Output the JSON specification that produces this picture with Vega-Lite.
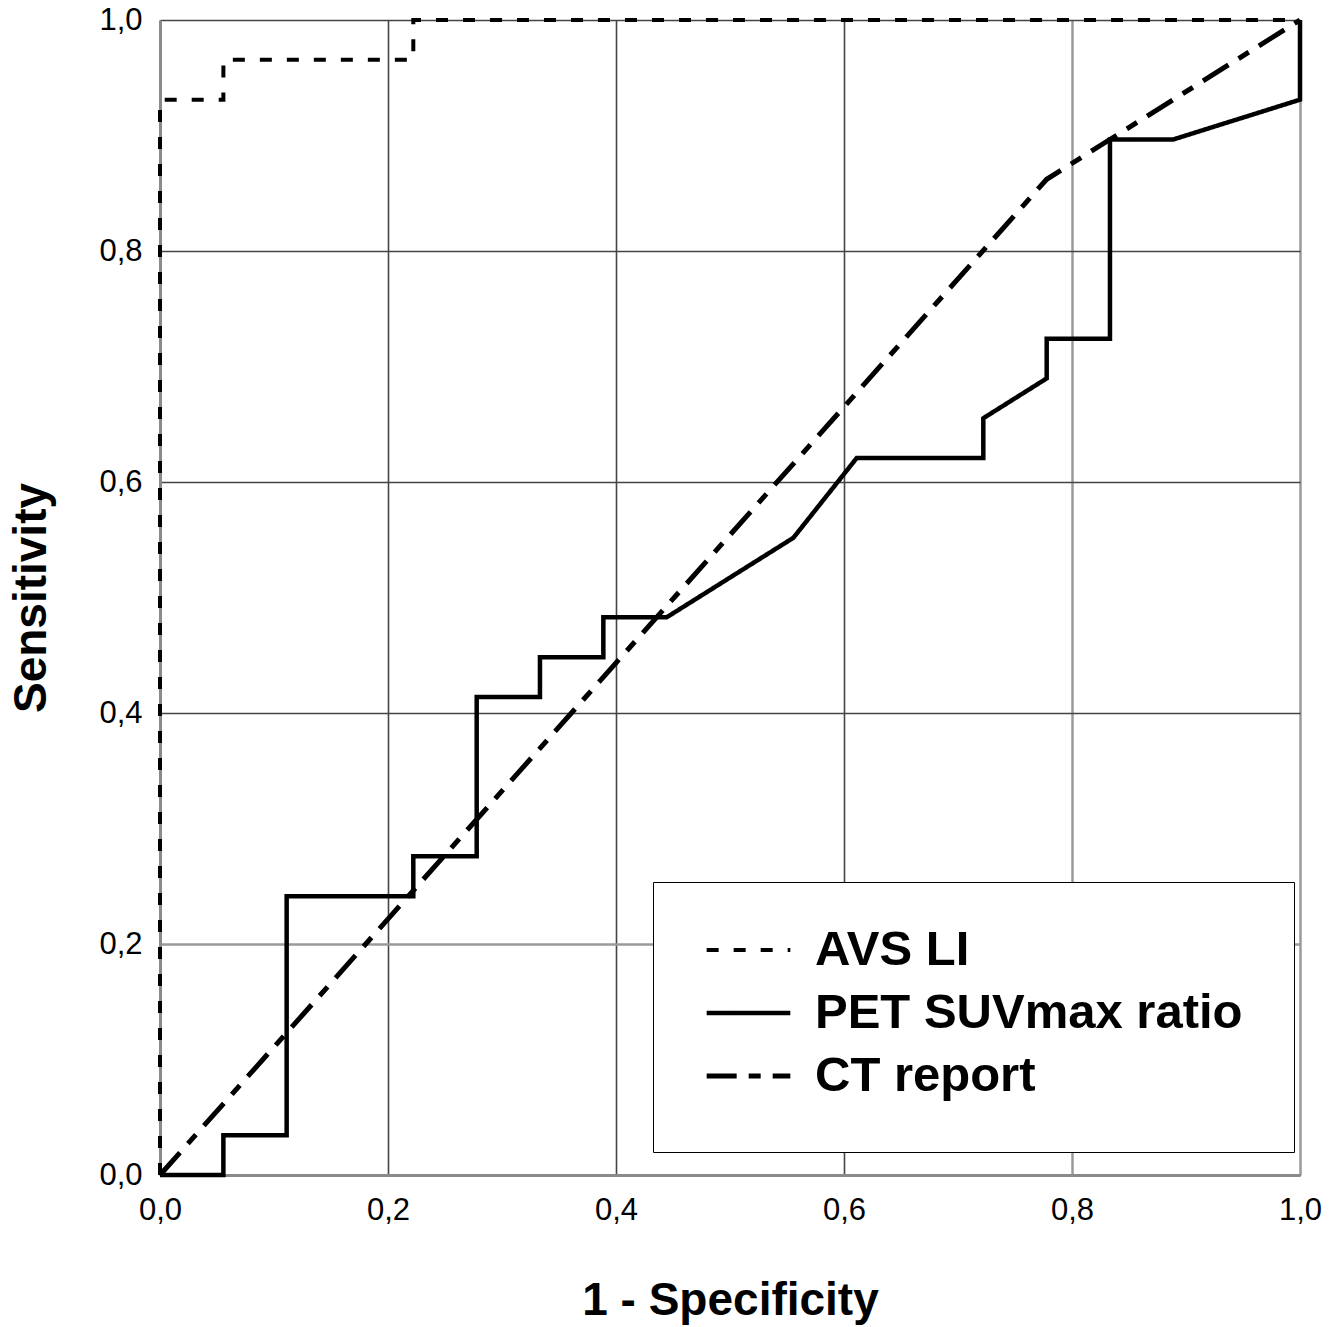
{
  "$schema": "https://vega.github.io/schema/vega-lite/v6.json",
  "width": 1140,
  "height": 1155,
  "autosize": "none",
  "padding": {"left": 160, "top": 20, "right": 39, "bottom": 152},
  "background": "white",
  "config": {
    "view": {"stroke": null},
    "font": "Liberation Sans"
  },
  "data": {
    "values": [
      {"series": "AVS LI", "i": 0, "x": 0, "y": 0},
      {"series": "AVS LI", "i": 1, "x": 0, "y": 0.931},
      {"series": "AVS LI", "i": 2, "x": 0.0556, "y": 0.931},
      {"series": "AVS LI", "i": 3, "x": 0.0556, "y": 0.9655},
      {"series": "AVS LI", "i": 4, "x": 0.2222, "y": 0.9655},
      {"series": "AVS LI", "i": 5, "x": 0.2222, "y": 1},
      {"series": "AVS LI", "i": 6, "x": 1, "y": 1},
      {"series": "PET SUVmax ratio", "i": 0, "x": 0, "y": 0},
      {"series": "PET SUVmax ratio", "i": 1, "x": 0.0556, "y": 0},
      {"series": "PET SUVmax ratio", "i": 2, "x": 0.0556, "y": 0.0345},
      {"series": "PET SUVmax ratio", "i": 3, "x": 0.1111, "y": 0.0345},
      {"series": "PET SUVmax ratio", "i": 4, "x": 0.1111, "y": 0.2414},
      {"series": "PET SUVmax ratio", "i": 5, "x": 0.2222, "y": 0.2414},
      {"series": "PET SUVmax ratio", "i": 6, "x": 0.2222, "y": 0.2759},
      {"series": "PET SUVmax ratio", "i": 7, "x": 0.2778, "y": 0.2759},
      {"series": "PET SUVmax ratio", "i": 8, "x": 0.2778, "y": 0.4138},
      {"series": "PET SUVmax ratio", "i": 9, "x": 0.3333, "y": 0.4138},
      {"series": "PET SUVmax ratio", "i": 10, "x": 0.3333, "y": 0.4483},
      {"series": "PET SUVmax ratio", "i": 11, "x": 0.3889, "y": 0.4483},
      {"series": "PET SUVmax ratio", "i": 12, "x": 0.3889, "y": 0.4828},
      {"series": "PET SUVmax ratio", "i": 13, "x": 0.4444, "y": 0.4828},
      {"series": "PET SUVmax ratio", "i": 14, "x": 0.5556, "y": 0.5517},
      {"series": "PET SUVmax ratio", "i": 15, "x": 0.6111, "y": 0.6207},
      {"series": "PET SUVmax ratio", "i": 16, "x": 0.7222, "y": 0.6207},
      {"series": "PET SUVmax ratio", "i": 17, "x": 0.7222, "y": 0.6552},
      {"series": "PET SUVmax ratio", "i": 18, "x": 0.7778, "y": 0.6897},
      {"series": "PET SUVmax ratio", "i": 19, "x": 0.7778, "y": 0.7241},
      {"series": "PET SUVmax ratio", "i": 20, "x": 0.8333, "y": 0.7241},
      {"series": "PET SUVmax ratio", "i": 21, "x": 0.8333, "y": 0.8966},
      {"series": "PET SUVmax ratio", "i": 22, "x": 0.8889, "y": 0.8966},
      {"series": "PET SUVmax ratio", "i": 23, "x": 1, "y": 0.931},
      {"series": "PET SUVmax ratio", "i": 24, "x": 1, "y": 1},
      {"series": "CT report", "i": 0, "x": 0, "y": 0},
      {"series": "CT report", "i": 1, "x": 0.7778, "y": 0.8621},
      {"series": "CT report", "i": 2, "x": 1, "y": 1}
    ]
  },
  "mark": {"type": "line", "color": "black", "interpolate": "linear", "strokeCap": "butt"},
  "encoding": {
    "x": {
      "field": "x", "type": "quantitative",
      "scale": {"domain": [0, 1], "nice": false, "zero": false},
      "axis": {
        "title": "1 - Specificity",
        "values": [0, 0.2, 0.4, 0.6, 0.8, 1],
        "labelExpr": "replace(format(datum.value, '.1f'), '.', ',')",
        "labelFont": "Liberation Sans", "labelFontSize": 31, "labelColor": "black",
        "labelPadding": 20, "labelFlush": false, "labelOverlap": false,
        "ticks": false,
        "domainColor": "#8a8a8a", "domainWidth": 3,
        "grid": true,
        "gridColor": {"condition": {"test": "datum.value >= 0.79", "value": "#9a9a9a"}, "value": "#444444"},
        "gridWidth": {"condition": {"test": "datum.value >= 0.79", "value": 2.5}, "value": 1.6},
        "titleFont": "Liberation Sans", "titleFontSize": 46, "titleFontWeight": "bold", "titleColor": "black",
        "titlePadding": 53
      }
    },
    "y": {
      "field": "y", "type": "quantitative",
      "scale": {"domain": [0, 1], "nice": false, "zero": false},
      "axis": {
        "title": "Sensitivity",
        "values": [0, 0.2, 0.4, 0.6, 0.8, 1],
        "labelExpr": "replace(format(datum.value, '.1f'), '.', ',')",
        "labelFont": "Liberation Sans", "labelFontSize": 31, "labelColor": "black",
        "labelPadding": 18, "labelFlush": false, "labelOverlap": false,
        "ticks": false,
        "domainColor": "#8a8a8a", "domainWidth": 3,
        "grid": true,
        "gridColor": {"condition": {"test": "datum.value > 0.1 && datum.value < 0.3", "value": "#9a9a9a"}, "value": "#444444"},
        "gridWidth": {"condition": {"test": "datum.value > 0.1 && datum.value < 0.3", "value": 2.5}, "value": 1.6},
        "titleFont": "Liberation Sans", "titleFontSize": 46, "titleFontWeight": "bold", "titleColor": "black",
        "titlePadding": 43
      }
    },
    "order": {"field": "i", "type": "quantitative"},
    "detail": {"field": "series"},
    "strokeDash": {
      "field": "series", "type": "nominal",
      "scale": {"domain": ["AVS LI", "PET SUVmax ratio", "CT report"], "range": [[12, 15], [1, 0], [30, 12, 12, 12]]},
      "legend": {
        "title": null,
        "orient": "none", "legendX": 493, "legendY": 862,
        "direction": "vertical",
        "strokeColor": "black", "fillColor": "white",
        "padding": 51,
        "symbolType": "stroke", "symbolSize": 7000, "symbolStrokeColor": "black", "symbolStrokeWidth": 4,
        "labelFont": "Liberation Sans", "labelFontSize": 49, "labelFontWeight": "bold", "labelColor": "black",
        "labelOffset": 22, "labelLimit": 800,
        "clipHeight": 34,
        "rowPadding": 14
      }
    },
    "strokeWidth": {
      "field": "series", "type": "nominal",
      "scale": {"domain": ["AVS LI", "PET SUVmax ratio", "CT report"], "range": [4, 5, 3]},
      "legend": null
    }
  }
}
